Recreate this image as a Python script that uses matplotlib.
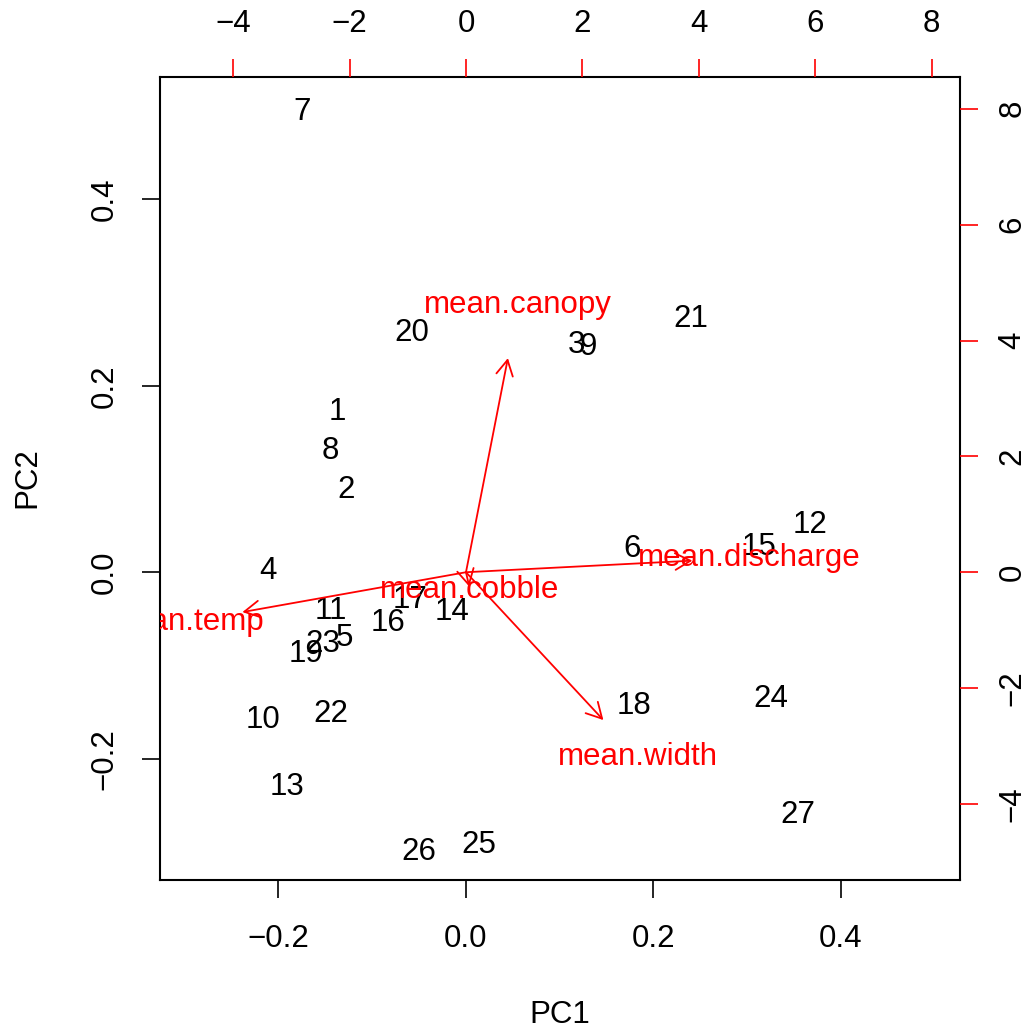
import numpy as np
import matplotlib
matplotlib.use('Agg')
import matplotlib.pyplot as plt

plt.rcParams['font.family'] = ['Liberation Sans', 'DejaVu Sans']

# site scores (PC1, PC2)
site_ids = ['7', '20', '3', '9', '21', '1', '8', '2', '4', '6', '15', '12', '11', '17', '14',
            '16', '23', '5', '19', '10', '22', '18', '24', '13', '27', '26', '25']
pc1 = [-0.175, -0.058, 0.118, 0.130, 0.240, -0.137, -0.145, -0.128, -0.211, 0.177, 0.313, 0.367,
       -0.144, -0.060, -0.015, -0.083, -0.153, -0.130, -0.171, -0.216, -0.144, 0.179, 0.325,
       -0.191, 0.354, -0.050, 0.014]
pc2 = [0.493, 0.256, 0.244, 0.241, 0.271, 0.172, 0.130, 0.088, 0.001, 0.025, 0.027, 0.051,
       -0.042, -0.030, -0.043, -0.054, -0.077, -0.071, -0.088, -0.158, -0.152, -0.143, -0.136,
       -0.230, -0.260, -0.300, -0.293]

# variable loadings (label positions; arrows drawn at 0.8 of these)
var_names = ['mean.canopy', 'mean.discharge', 'mean.temp', 'mean.cobble', 'mean.width']
load1 = [0.90, 4.86, -4.80, 0.07, 2.95]
load2 = [4.62, 0.25, -0.86, -0.31, -3.19]

ratio = 16.1
xlim = (-0.3264, 0.527)
ylim = (-0.330, 0.531)
fs = 22.5


def fmt1(v, p):
    return ('%.1f' % v).replace('-', '\u2212')


fig = plt.figure(figsize=(10.33, 10.32), dpi=100)
pos = [160 / 1033, 1 - 880 / 1032, 800 / 1033, 803 / 1032]
ax = fig.add_axes(pos)
ax.set_xlim(*xlim)
ax.set_ylim(*ylim)
ax.set_xticks([-0.2, 0.0, 0.2, 0.4])
ax.set_yticks([-0.2, 0.0, 0.2, 0.4])
ax.xaxis.set_major_formatter(matplotlib.ticker.FuncFormatter(fmt1))
ax.yaxis.set_major_formatter(matplotlib.ticker.FuncFormatter(fmt1))
ax.tick_params(direction='out', length=13, width=1.2, labelsize=fs, pad=16)
ax.tick_params(axis='x', pad=19)
plt.setp(ax.get_yticklabels(), rotation=90, va='center')
for s in ax.spines.values():
    s.set_linewidth(1.5)

for lab, x, y in zip(site_ids, pc1, pc2):
    ax.text(x, y, lab, fontsize=fs, ha='center', va='center', color='black')

ax2 = fig.add_axes(pos, frameon=False)
ax2.set_xlim(xlim[0] * ratio, xlim[1] * ratio)
ax2.set_ylim(ylim[0] * ratio, ylim[1] * ratio)
ax2.xaxis.tick_top()
ax2.yaxis.tick_right()
ax2.set_xticks([-4, -2, 0, 2, 4, 6, 8])
ax2.set_yticks([-4, -2, 0, 2, 4, 6, 8])
ax2.tick_params(direction='out', length=13, width=1.2, color='red', labelcolor='black',
                labelsize=fs, pad=14)
plt.setp(ax2.get_yticklabels(), rotation=90, va='center')
ax2.patch.set_visible(False)

for name, x, y in zip(var_names, load1, load2):
    ax2.annotate('', xy=(0.8 * x, 0.8 * y), xytext=(0, 0),
                 arrowprops=dict(arrowstyle='->,head_length=0.55,head_width=0.3',
                                 color='red', lw=1.3, shrinkA=0, shrinkB=0,
                                 mutation_scale=20))
    t = ax2.text(x, y, name, fontsize=fs, ha='center', va='center', color='red')
    t.set_clip_on(True)

fig.text(560 / 1033, 1 - 1015 / 1032, 'PC1', fontsize=fs, ha='center', va='center')
fig.text(27 / 1033, 1 - 478 / 1032, 'PC2', fontsize=fs, ha='center', va='center', rotation=90)

fig.savefig('out.png', dpi=100, facecolor='white')
